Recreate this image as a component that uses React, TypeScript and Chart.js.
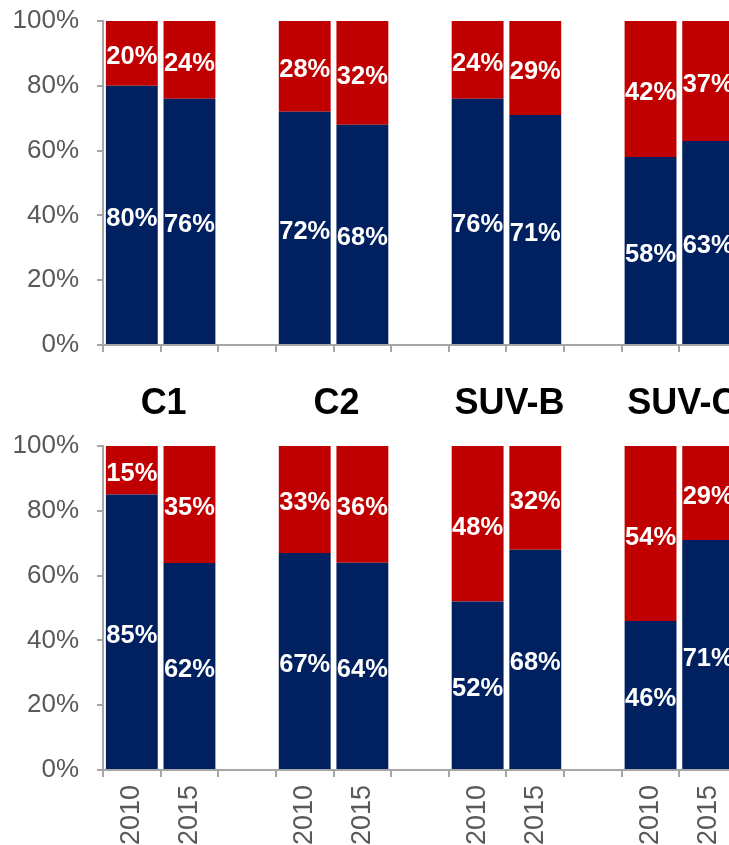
import React, { useEffect, useRef } from "react";
import { Chart, registerables } from "chart.js";

Chart.register(...registerables);

// Category slots along the x axis; empty strings are spacer slots between groups.
const yearLabels = ["2010", "2015", "", "2010", "2015", "", "2010", "2015", "", "2010", "2015"];
const groupNames = ["C1", "C2", "SUV-B", "SUV-C"];
const yTicks = [0, 20, 40, 60, 80, 100];

// Upper panel shares (%)
const topBlue = [80, 76, null, 72, 68, null, 76, 71, null, 58, 63];
const topRed = [20, 24, null, 28, 32, null, 24, 29, null, 42, 37];

// Lower panel shares (%)
const bottomBlue = [85, 62, null, 67, 64, null, 52, 68, null, 46, 71];
const bottomRed = [15, 35, null, 33, 36, null, 48, 32, null, 54, 29];

const BLUE = "#002060";
const RED = "#C00000";
const AXIS = "#A6A6A6";
const TEXT = "#595959";
const FONT = "'Liberation Sans', Arial, sans-serif";

type Num = number | null;

// Each bar is drawn as its share of the stack total, so every column fills 100%.
function normalize(a: Num[], b: Num[]): [Num[], Num[]] {
  const na = a.map((v, i) => (v == null || b[i] == null ? null : (v / (v + (b[i] as number))) * 100));
  const nb = b.map((v, i) => (v == null || a[i] == null ? null : (v / (v + (a[i] as number))) * 100));
  return [na, nb];
}

function noEdgePadding(s: any) {
  s.paddingTop = 0;
  s.paddingBottom = 0;
  s.paddingLeft = 0;
  s.paddingRight = 0;
}

function makeConfig(blue: Num[], red: Num[], showYears: boolean, drawGroups: boolean, padTop: number): any {
  const [nBlue, nRed] = normalize(blue, red);
  const rawValues = [blue, red];

  const valueLabels = {
    id: "valueLabels",
    afterDatasetsDraw(chart: any) {
      const ctx = chart.ctx;
      ctx.save();
      ctx.fillStyle = "#FFFFFF";
      ctx.font = `bold 25.5px ${FONT}`;
      ctx.textAlign = "center";
      ctx.textBaseline = "middle";
      chart.data.datasets.forEach((_ds: any, di: number) => {
        const meta = chart.getDatasetMeta(di);
        meta.data.forEach((el: any, i: number) => {
          const v = rawValues[di][i];
          if (v == null) return;
          const p = el.getCenterPoint();
          ctx.fillText(`${v}%`, p.x, p.y + 4);
        });
      });
      ctx.restore();
    },
  };

  const groupLabels = {
    id: "groupLabels",
    afterDraw(chart: any) {
      if (!drawGroups) return;
      const ctx = chart.ctx;
      const x = chart.scales.x;
      ctx.save();
      ctx.fillStyle = "#000000";
      ctx.font = `bold 36px ${FONT}`;
      ctx.textAlign = "center";
      ctx.textBaseline = "middle";
      groupNames.forEach((name, g) => {
        const cx = (x.getPixelForValue(g * 3) + x.getPixelForValue(g * 3 + 1)) / 2 + 3;
        ctx.fillText(name, cx, chart.chartArea.bottom + 59);
      });
      ctx.restore();
    },
  };

  return {
    type: "bar",
    data: {
      labels: yearLabels,
      datasets: [
        { data: nBlue, backgroundColor: BLUE, borderWidth: 0 },
        { data: nRed, backgroundColor: RED, borderWidth: 0 },
      ],
    },
    options: {
      responsive: false,
      animation: false,
      devicePixelRatio: 1,
      layout: { padding: { top: padTop, left: 0, right: 23, bottom: 0 } },
      plugins: { legend: { display: false }, tooltip: { enabled: false } },
      datasets: { bar: { categoryPercentage: 1, barPercentage: 0.9 } },
      scales: {
        x: {
          stacked: true,
          offset: true,
          afterFit: (s: any) => {
            s.height = 75;
            noEdgePadding(s);
          },
          grid: { offset: true, drawOnChartArea: false, drawTicks: true, tickLength: 7, color: AXIS, lineWidth: 2 },
          border: { display: true, color: AXIS, width: 2 },
          ticks: {
            display: showYears,
            autoSkip: false,
            minRotation: 90,
            maxRotation: 90,
            padding: 8,
            color: TEXT,
            font: { family: FONT, size: 27 },
          },
        },
        y: {
          stacked: true,
          min: 0,
          max: 100,
          afterFit: (s: any) => {
            s.width = 103;
            noEdgePadding(s);
          },
          afterBuildTicks: (s: any) => {
            s.ticks = yTicks.map((v) => ({ value: v }));
          },
          grid: { drawOnChartArea: false, drawTicks: true, tickLength: 6, color: AXIS, lineWidth: 2 },
          border: { display: true, color: AXIS, width: 2 },
          ticks: {
            padding: 18,
            color: TEXT,
            font: { family: FONT, size: 26 },
            callback: (v: any) => `${v}%`,
          },
        },
      },
    },
    plugins: [valueLabels, groupLabels],
  };
}

function Panel(props: { blue: Num[]; red: Num[]; years: boolean; groups: boolean; top: number; height: number; padTop: number }) {
  const ref = useRef<HTMLCanvasElement | null>(null);
  useEffect(() => {
    if (!ref.current) return;
    const chart = new Chart(ref.current, makeConfig(props.blue, props.red, props.years, props.groups, props.padTop));
    return () => chart.destroy();
  }, []);
  return (
    <canvas
      ref={ref}
      width={760}
      height={props.height}
      style={{ position: "absolute", left: 0, top: props.top, width: 760, height: props.height }}
    />
  );
}

export default function App() {
  return (
    <div
      style={{
        position: "fixed",
        left: 0,
        top: 0,
        width: 729,
        height: 845,
        overflow: "hidden",
        background: "#FFFFFF",
      }}
    >
      <Panel blue={topBlue} red={topRed} years={false} groups={true} top={0} height={420} padTop={21} />
      <Panel blue={bottomBlue} red={bottomRed} years={true} groups={false} top={420} height={425} padTop={26} />
    </div>
  );
}
